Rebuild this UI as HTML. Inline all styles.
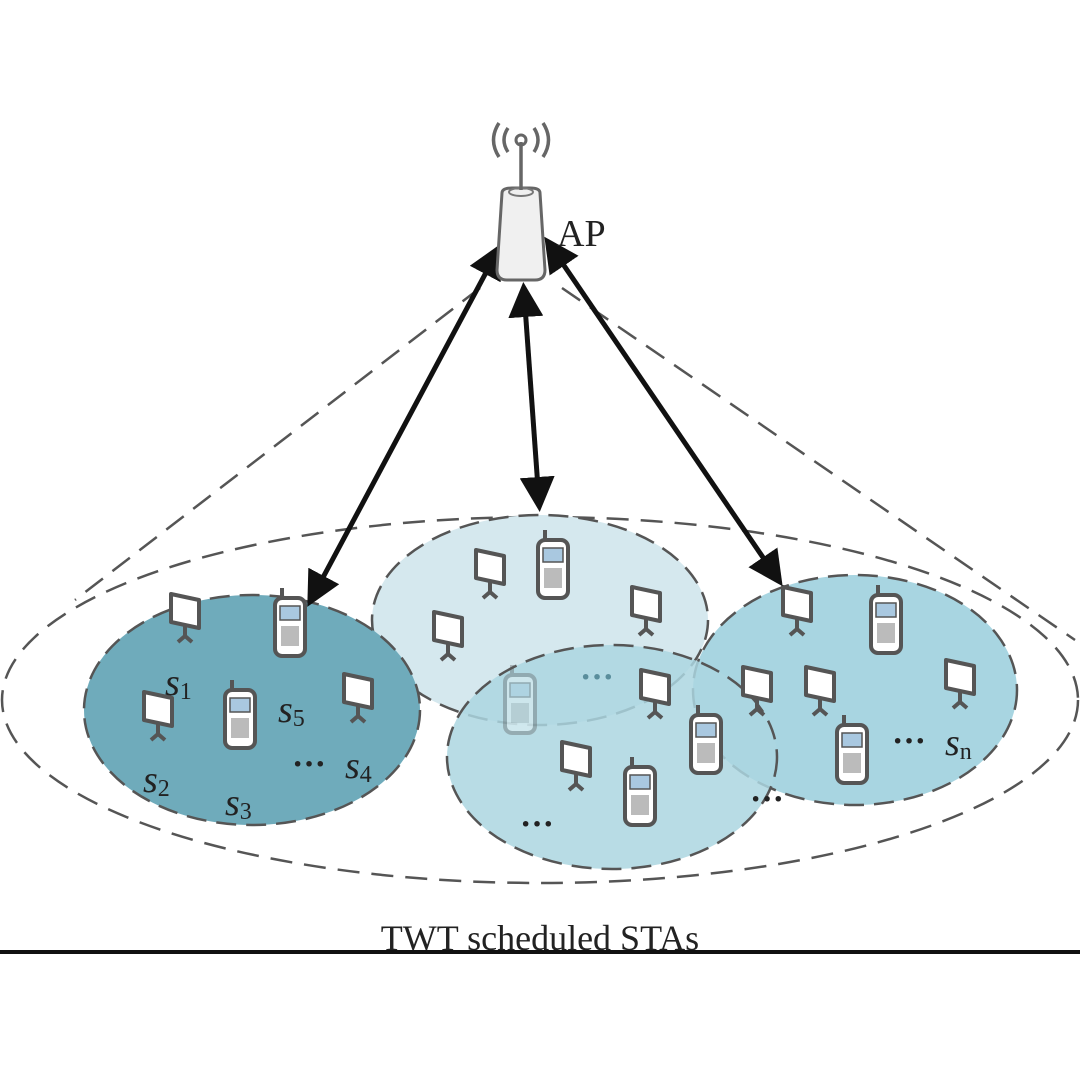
<!DOCTYPE html>
<html><head><meta charset="utf-8"><style>
html,body{margin:0;padding:0;background:#fff}
svg{display:block}
text{font-family:"Liberation Serif",serif;fill:#222}
</style></head><body>
<svg width="1080" height="1080" viewBox="0 0 1080 1080">
<defs>
<marker id="ah" markerWidth="7" markerHeight="7" refX="5" refY="3.5" orient="auto-start-reverse" markerUnits="strokeWidth">
<path d="M0,0 L7,3.5 L0,7 z" fill="#111"/></marker>
<g id="mon">
<path d="M-14,-18 L14,-12 L14,16 L-14,10 z" fill="#fff" stroke="#555" stroke-width="4" stroke-linejoin="round"/>
<path d="M0,13 L0,26 M-7,30 L0,24 L7,30" stroke="#555" stroke-width="4" fill="none"/>
</g>
<g id="ph">
<line x1="-8" y1="-28" x2="-8" y2="-40" stroke="#555" stroke-width="4"/>
<rect x="-15" y="-30" width="30" height="58" rx="7" fill="#fff" stroke="#555" stroke-width="4"/>
<rect x="-10" y="-22" width="20" height="14" fill="#a9c8e0" stroke="#555" stroke-width="1.5"/>
<rect x="-9" y="-2" width="18" height="20" fill="#bbb"/>
</g>
</defs>
<rect width="1080" height="1080" fill="#fff"/>
<line x1="480" y1="288" x2="75" y2="600" stroke="#555" stroke-width="2.5" stroke-dasharray="22,12"/>
<line x1="562" y1="288" x2="1075" y2="640" stroke="#555" stroke-width="2.5" stroke-dasharray="22,12"/>
<ellipse cx="540" cy="700" rx="538" ry="183" fill="none" stroke="#555" stroke-width="2.5" stroke-dasharray="22,12"/>
<ellipse cx="540" cy="620" rx="168" ry="105" fill="#d5e8ee" stroke="#555" stroke-width="2.5" stroke-dasharray="20,10"/>
<ellipse cx="252" cy="710" rx="168" ry="115" fill="#6fabbb" stroke="#555" stroke-width="2.5" stroke-dasharray="20,10"/>
<ellipse cx="855" cy="690" rx="162" ry="115" fill="#a3d3df" fill-opacity="0.95" stroke="#555" stroke-width="2.5" stroke-dasharray="20,10"/>
<ellipse cx="612" cy="757" rx="165" ry="112" fill="#abd6e1" fill-opacity="0.85" stroke="#555" stroke-width="2.5" stroke-dasharray="20,10"/>
<use href="#mon" x="185" y="612"/>
<use href="#mon" x="158" y="710"/>
<use href="#mon" x="358" y="692"/>
<use href="#ph" x="290" y="628"/>
<use href="#ph" x="240" y="720"/>
<use href="#mon" x="490" y="568"/>
<use href="#mon" x="448" y="630"/>
<use href="#mon" x="646" y="605"/>
<use href="#ph" x="553" y="570"/>
<g opacity="0.35"><use href="#ph" x="520" y="705"/></g>
<use href="#mon" x="655" y="688"/>
<use href="#mon" x="576" y="760"/>
<use href="#ph" x="706" y="745"/>
<use href="#ph" x="640" y="797"/>
<use href="#mon" x="797" y="605"/>
<use href="#mon" x="820" y="685"/>
<use href="#mon" x="757" y="685"/>
<use href="#mon" x="960" y="678"/>
<use href="#ph" x="886" y="625"/>
<use href="#ph" x="852" y="755"/>
<g font-size="34" font-weight="bold">
<text x="580" y="688" style="fill:#5a8e9c">···</text>
<text x="292" y="775">···</text>
<text x="520" y="835">···</text>
<text x="750" y="810">···</text>
<text x="892" y="752">···</text>
</g>
<g font-style="italic" font-size="38">
<text x="165" y="695">s<tspan font-size="24" font-style="normal" dy="4">1</tspan></text>
<text x="278" y="722">s<tspan font-size="24" font-style="normal" dy="4">5</tspan></text>
<text x="345" y="778">s<tspan font-size="24" font-style="normal" dy="4">4</tspan></text>
<text x="143" y="792">s<tspan font-size="24" font-style="normal" dy="4">2</tspan></text>
<text x="225" y="815">s<tspan font-size="24" font-style="normal" dy="4">3</tspan></text>
<text x="945" y="755">s<tspan font-size="24" font-style="normal" dy="4">n</tspan></text>
</g>
<line x1="497" y1="252" x2="312" y2="598" stroke="#111" stroke-width="5" marker-start="url(#ah)" marker-end="url(#ah)"/>
<line x1="524" y1="292" x2="539" y2="502" stroke="#111" stroke-width="5" marker-start="url(#ah)" marker-end="url(#ah)"/>
<line x1="550" y1="245" x2="777" y2="578" stroke="#111" stroke-width="5" marker-start="url(#ah)" marker-end="url(#ah)"/>
<path d="M502,193 Q502,188 512,188 L530,188 Q540,188 540,193 L545,270 Q545,280 535,280 L507,280 Q497,280 497,270 z" fill="#f0f0f0" stroke="#666" stroke-width="3"/>
<ellipse cx="521" cy="192" rx="12" ry="4" fill="none" stroke="#777" stroke-width="2"/>
<line x1="521" y1="190" x2="521" y2="142" stroke="#666" stroke-width="3.5"/>
<circle cx="521" cy="140" r="5" fill="none" stroke="#666" stroke-width="3"/>
<path d="M508,128 Q500,140 508,152 M534,128 Q542,140 534,152 M499,123 Q488,140 499,157 M543,123 Q554,140 543,157" fill="none" stroke="#666" stroke-width="3.5"/>
<text x="557" y="246" font-size="38">AP</text>
<text x="540" y="950" font-size="36" text-anchor="middle">TWT scheduled STAs</text>
<rect x="0" y="950" width="1080" height="4" fill="#111"/>
</svg>
</body></html>
